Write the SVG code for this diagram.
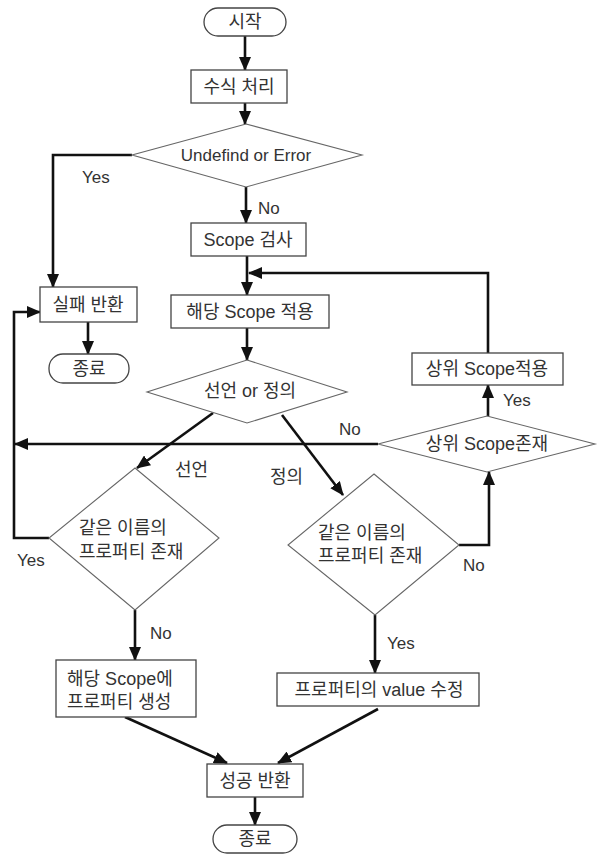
<svg xmlns="http://www.w3.org/2000/svg" width="602" height="854" viewBox="0 0 602 854">
<style>
text{font-family:"Liberation Sans","Noto Sans CJK KR",sans-serif;font-size:18px;fill:#333;dominant-baseline:central}
text.l{font-size:17px}
.c{text-anchor:middle}
.box{fill:#fff;stroke:#444;stroke-width:1.3}
.dia{fill:#fff;stroke:#666;stroke-width:1.1}
.con path{fill:none;stroke:#111;stroke-width:2.6;marker-end:url(#ah)}
</style>
<defs>
<marker id="ah" markerUnits="userSpaceOnUse" markerWidth="14" markerHeight="12" viewBox="0 0 14 12" refX="13" refY="6" orient="auto">
<path d="M0 0 L14 6 L0 12 Z" fill="#111"/>
</marker>
</defs>
<rect width="602" height="854" fill="#fff"/>
<g class="con" id="connectors">
<path d="M245 36 V70"/>
<path d="M245 103 V124"/>
<path d="M132 155 H53 V287"/>
<path d="M246 187 V223"/>
<path d="M247 256 V295"/>
<path d="M488 353 V273 H249"/>
<path d="M247 328 V360"/>
<path d="M88 322 V354"/>
<path d="M213 413 L137 468"/>
<path d="M282 415 L343 495"/>
<path d="M378 444 H15"/>
<path d="M49 538 H14 V312 H40"/>
<path d="M488 416 V385"/>
<path d="M459 545 H489 V472"/>
<path d="M135 610 V660"/>
<path d="M375 615 V673"/>
<path d="M125 717 L227 763"/>
<path d="M378 709 L278 763"/>
<path d="M255 797 V825"/>
</g>
<g id="start"><rect class="box" x="204" y="8" width="82" height="28" rx="14"/><text class="c" x="245" y="22">시작</text></g>
<g id="formula"><rect class="box" x="191" y="70" width="96" height="33"/><text class="c" x="239" y="87">수식 처리</text></g>
<g id="undef"><polygon class="dia" points="246,124 362,155 246,187 132,155"/><text class="c l" x="246" y="155">Undefind or Error</text></g>
<g id="scopecheck"><rect class="box" x="191" y="223" width="115" height="33"/><text class="c" x="248" y="240">Scope 검사</text></g>
<g id="fail"><rect class="box" x="40" y="287" width="97" height="35"/><text class="c" x="88" y="305">실패 반환</text></g>
<g id="end1"><rect class="box" x="49" y="354" width="80" height="29" rx="14"/><text class="c" x="89" y="369">종료</text></g>
<g id="apply"><rect class="box" x="171" y="295" width="158" height="33"/><text class="c" x="250" y="312">해당 Scope 적용</text></g>
<g id="declare"><polygon class="dia" points="247,360 347,392 247,423 147,392"/><text class="c" x="250" y="391">선언 or 정의</text></g>
<g id="upperapply"><rect class="box" x="412" y="353" width="151" height="32"/><text class="c" x="487" y="369">상위 Scope적용</text></g>
<g id="upperexist"><polygon class="dia" points="487,416 595,444 487,472 378,444"/><text class="c" x="487" y="444">상위 Scope존재</text></g>
<g id="same1"><polygon class="dia" points="135,468 219,538 135,610 49,538"/><text x="79" y="528">같은 이름의</text><text x="79" y="552">프로퍼티 존재</text></g>
<g id="same2"><polygon class="dia" points="374,474 459,545 375,615 288,545"/><text x="318" y="533">같은 이름의</text><text x="318" y="556">프로퍼티 존재</text></g>
<g id="create"><rect class="box" x="56" y="660" width="140" height="57"/><text x="67" y="679">해당 Scope에</text><text x="67" y="702">프로퍼티 생성</text></g>
<g id="modify"><rect class="box" x="277" y="673" width="202" height="33"/><text class="c" x="379" y="690">프로퍼티의 value 수정</text></g>
<g id="success"><rect class="box" x="207" y="764" width="96" height="33"/><text class="c" x="255" y="781">성공 반환</text></g>
<g id="end2"><rect class="box" x="213" y="825" width="84" height="28" rx="14"/><text class="c" x="255" y="839">종료</text></g>
<g id="labels">
<text class="l" x="82" y="177">Yes</text>
<text class="l" x="258" y="208">No</text>
<text class="l" x="503" y="400">Yes</text>
<text class="l" x="339" y="429">No</text>
<text x="175" y="470">선언</text>
<text x="270" y="477">정의</text>
<text class="l" x="17" y="560">Yes</text>
<text class="l" x="463" y="565">No</text>
<text class="l" x="150" y="633">No</text>
<text class="l" x="387" y="643">Yes</text>
</g>
</svg>
